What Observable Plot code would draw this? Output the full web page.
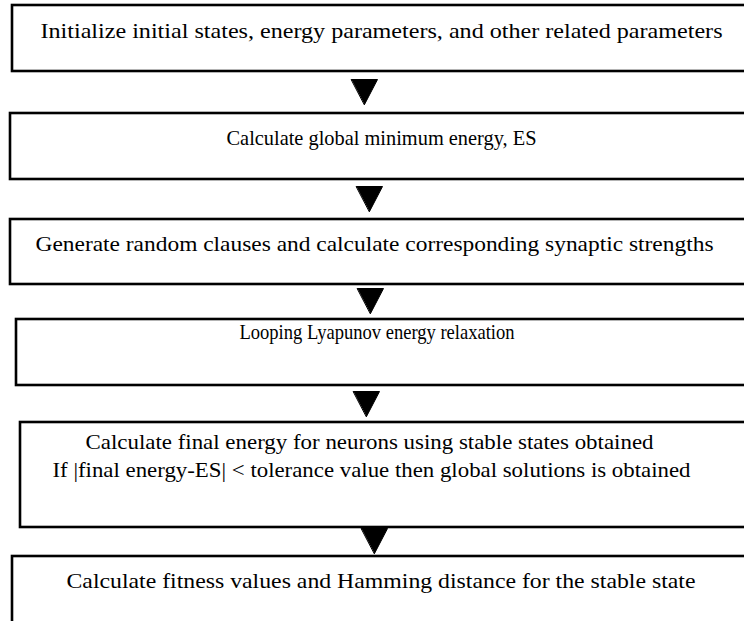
<!DOCTYPE html>
<html>
<head>
<meta charset="utf-8">
<script src="https://cdn.jsdelivr.net/npm/d3@7"></script>
<script src="https://cdn.jsdelivr.net/npm/@observablehq/plot@0.6"></script>
<style>
  html, body { margin: 0; padding: 0; background: #fff; }
  #chart svg { display: block; }
</style>
</head>
<body>
<div id="chart"></div>
<script>
// Flowchart steps (top to bottom)
const steps = [
  ["Initialize initial states, energy parameters, and other related parameters"],
  ["Calculate global minimum energy, ES"],
  ["Generate random clauses and calculate corresponding synaptic strengths"],
  ["Looping Lyapunov energy relaxation"],
  ["Calculate final energy for neurons using stable states obtained",
   "If |final energy-ES| < tolerance value then global solutions is obtained"],
  ["Calculate fitness values and Hamming distance for the stable state"]
];
// Box extents (pixels in a 744 x 621 frame)
const boxLeft   = [12, 10, 10, 16, 20, 12];
const boxTop    = [5, 113, 219, 319, 422, 556];
const boxBottom = [71, 179, 284, 385, 527, 640];
// Text line extents (left, right) and baselines
const textLeft  = [[40], [226], [35], [239], [85, 52], [66]];
const textRight = [[722], [536], [713], [514], [653, 690], [695]];
const textBase  = [[37], [144], [250], [338], [448, 476], [587]];
// Arrow triangles: centre x, top y, tip y
const arrowX   = [364, 369, 370, 366, 374];
const arrowTop = [79, 186, 288, 391, 528];
const arrowTip = [104, 211, 313, 416, 553];
const arrowHalf = 13;

const boxes = steps.map((s, i) => ({i, x1: boxLeft[i], x2: 770, y1: boxTop[i], y2: boxBottom[i]}));
const labels = steps.flatMap((lines, i) => lines.map((t, j) => ({
  text: t,
  x: (textLeft[i][j] + textRight[i][j]) / 2,
  w: textRight[i][j] - textLeft[i][j],
  y: textBase[i][j]
})));
const tri = arrowX.flatMap((cx, k) => [
  {k, x: cx - arrowHalf, y: arrowTop[k]},
  {k, x: cx + arrowHalf, y: arrowTop[k]},
  {k, x: cx, y: arrowTip[k]}
]);

const chart = Plot.plot({
  width: 744,
  height: 621,
  margin: 0,
  x: {domain: [0, 744], axis: null},
  y: {domain: [0, 621], reverse: true, axis: null},
  style: {fontFamily: "'Liberation Serif', 'Times New Roman', serif", background: "#fff"},
  marks: [
    Plot.rect(boxes, {x1: "x1", x2: "x2", y1: "y1", y2: "y2", fill: "none", stroke: "black", strokeWidth: 2.6, clip: true}),
    Plot.line(tri, {x: "x", y: "y", z: "k", fill: "black", stroke: "black", strokeWidth: 1, curve: "linear-closed"}),
    Plot.text(labels, {x: "x", y: "y", text: "text", fontSize: 22, fill: "#000", textAnchor: "middle", lineAnchor: "bottom"})
  ]
});
// fit each line to the width measured in the reference
const textNodes = chart.querySelectorAll('g[aria-label="text"] text');
textNodes.forEach((node, idx) => {
  node.setAttribute("textLength", labels[idx].w);
  node.setAttribute("lengthAdjust", "spacingAndGlyphs");
});
document.getElementById("chart").appendChild(chart);
</script>
</body>
</html>
